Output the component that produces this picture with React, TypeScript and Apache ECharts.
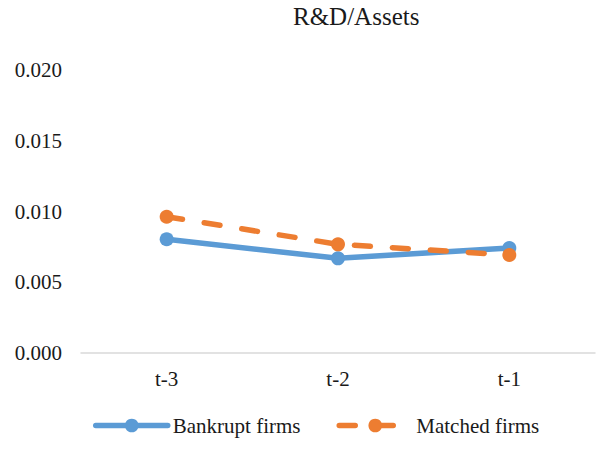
import React, { useEffect, useRef } from "react";
import * as echarts from "echarts";

const categories = ["t-3", "t-2", "t-1"];
const bankruptFirms = [0.00804, 0.00669, 0.00742];
const matchedFirms = [0.00963, 0.00768, 0.00693];
const seriesNames = ["Bankrupt firms", "Matched firms"];
const titleText = "R&D/Assets";

const FONT = "Times New Roman, Liberation Serif, serif";

const txt = (size: number) => ({
  fontFamily: FONT,
  fontSize: size,
  fontWeight: "normal" as const,
  fontStyle: "normal" as const,
  color: "#1a1a1a",
});

export default function App() {
  const ref = useRef<HTMLDivElement>(null);
  useEffect(() => {
    if (!ref.current) return;
    const chart = echarts.init(ref.current, undefined, { renderer: "svg" });
    chart.setOption({
      animation: false,
      backgroundColor: "#ffffff",
      textStyle: txt(21),
      title: {
        text: titleText,
        left: 293,
        top: 4,
        padding: 0,
        textStyle: txt(25),
      },
      legend: {
        left: 93,
        top: 415,
        itemWidth: 72,
        itemHeight: 17,
        itemGap: 36,
        padding: 0,
        lineStyle: { width: 5.5 },
        textStyle: txt(21),
        data: seriesNames,
      },
      grid: { left: 81, right: 2, top: 70, bottom: 101, containLabel: false },
      xAxis: {
        type: "category",
        data: categories,
        boundaryGap: true,
        axisLine: { show: true, lineStyle: { color: "#d9d9d9", width: 1.5 } },
        axisTick: { show: false },
        axisLabel: { ...txt(21), margin: 15 },
        splitLine: { show: false },
      },
      yAxis: {
        type: "value",
        min: 0,
        max: 0.02,
        interval: 0.005,
        axisLine: { show: false },
        axisTick: { show: false },
        splitLine: { show: false },
        axisLabel: {
          ...txt(21),
          margin: 19,
          formatter: (v: number) => v.toFixed(3),
        },
      },
      series: [
        {
          name: seriesNames[0],
          type: "line",
          data: bankruptFirms,
          symbol: "circle",
          symbolSize: 14,
          itemStyle: { color: "#5B9BD5" },
          lineStyle: { color: "#5B9BD5", width: 5.5, cap: "round", join: "round" },
          z: 2,
        },
        {
          name: seriesNames[1],
          type: "line",
          data: matchedFirms,
          symbol: "circle",
          symbolSize: 14,
          itemStyle: { color: "#ED7D31" },
          lineStyle: { color: "#ED7D31", width: 5.5, type: [16, 22], cap: "round", join: "round" },
          z: 3,
        },
      ],
    });
    return () => chart.dispose();
  }, []);
  return (
    <div
      ref={ref}
      style={{ position: "absolute", left: 0, top: 0, width: 597, height: 454 }}
    />
  );
}
